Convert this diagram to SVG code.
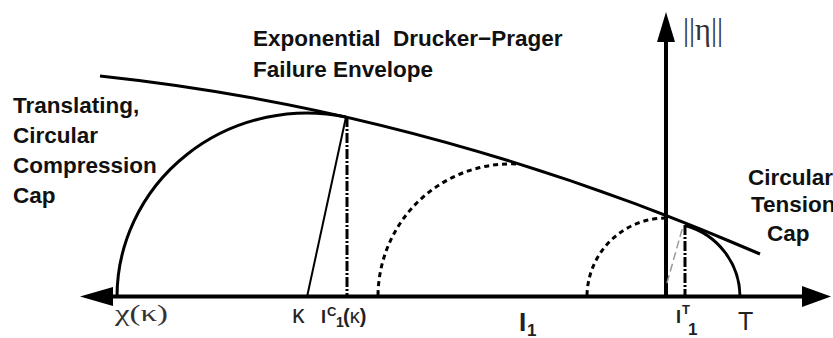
<svg xmlns="http://www.w3.org/2000/svg" width="833" height="338" viewBox="0 0 833 338">
<style>
.b{font-family:"Liberation Sans",Arial,sans-serif;font-weight:bold;font-size:22.5px;fill:#111}
.ax{font-family:"Liberation Sans",Arial,sans-serif;font-weight:bold;fill:#222}
.rg{font-family:"Liberation Sans",Arial,sans-serif;font-weight:normal;fill:#222}
.gr{font-family:"Liberation Serif","Times New Roman",serif;fill:#333}
.solid{fill:none;stroke:#000;stroke-width:3}
.dot{fill:none;stroke:#000;stroke-width:3;stroke-dasharray:5 4}
.dd{fill:none;stroke:#000;stroke-width:3;stroke-dasharray:10 2 2 2}
</style>
<rect width="833" height="338" fill="#fff"/>
<g id="axes">
<line x1="95" y1="296.5" x2="815" y2="296.5" stroke="#000" stroke-width="4"/>
<polygon points="80,296.5 113,287 113,306" fill="#000"/>
<polygon points="831,296.5 802,286 802,307" fill="#000"/>
<line x1="666" y1="298" x2="666" y2="35" stroke="#000" stroke-width="4"/>
<polygon points="666,12 657,42 675,42" fill="#000"/>
</g>
<g id="curves">
<path class="solid" d="M100,76 Q430,111 760,254"/>
<path class="solid" d="M117,297 A190,184 0 0 1 346,117"/>
<line x1="307" y1="297" x2="346" y2="117" stroke="#000" stroke-width="2"/>
<line class="dd" x1="347" y1="117" x2="347" y2="295"/>
<path class="dot" d="M378,295 A133,133 0 0 1 517,164"/>
<path class="dot" d="M587,295 A79,79 0 0 1 666,218"/>
<path class="solid" d="M685,225.5 A74,74 0 0 1 740,297"/>
<line class="dd" x1="685" y1="225" x2="685" y2="295"/>
<line x1="667" y1="283" x2="683" y2="226" stroke="#999" stroke-width="1.5" stroke-dasharray="8 4"/>
</g>
<g id="labels">
<text class="b" y="46"><tspan x="253">Exponential</tspan><tspan x="393">Drucker−Prager</tspan></text>
<text class="b" x="253" y="77">Failure Envelope</text>
<text class="b" x="13" y="113">Translating,</text>
<text class="b" x="13" y="143">Circular</text>
<text class="b" x="13" y="173">Compression</text>
<text class="b" x="13" y="203">Cap</text>
<text class="b" x="748" y="185">Circular</text>
<text class="b" x="751" y="212">Tension</text>
<text class="b" x="767" y="241">Cap</text>
<text class="gr" x="683" y="40" font-size="32" fill="#444" textLength="40" lengthAdjust="spacingAndGlyphs">||η||</text>
<text class="gr" x="115" y="321" font-size="24" textLength="53" lengthAdjust="spacingAndGlyphs">χ(κ)</text>
<text class="rg" x="292" y="323" font-size="25">κ</text>
<text class="ax" x="321" y="323" font-size="18">I</text>
<text class="ax" x="327" y="316" font-size="13">C</text>
<text class="ax" x="336" y="327" font-size="14">1</text>
<text class="ax" x="343" y="323" font-size="20"><tspan>(</tspan><tspan class="rg" font-size="20">κ</tspan><tspan>)</tspan></text>
<text class="ax" x="519" y="331" font-size="26">I</text>
<text class="ax" x="527" y="336" font-size="17">1</text>
<text class="ax" x="676" y="323" font-size="18">I</text>
<text class="ax" x="682" y="314" font-size="13">T</text>
<text class="ax" x="688" y="335" font-size="17">1</text>
<text class="rg" x="738" y="330" font-size="25">T</text>
</g>
</svg>
